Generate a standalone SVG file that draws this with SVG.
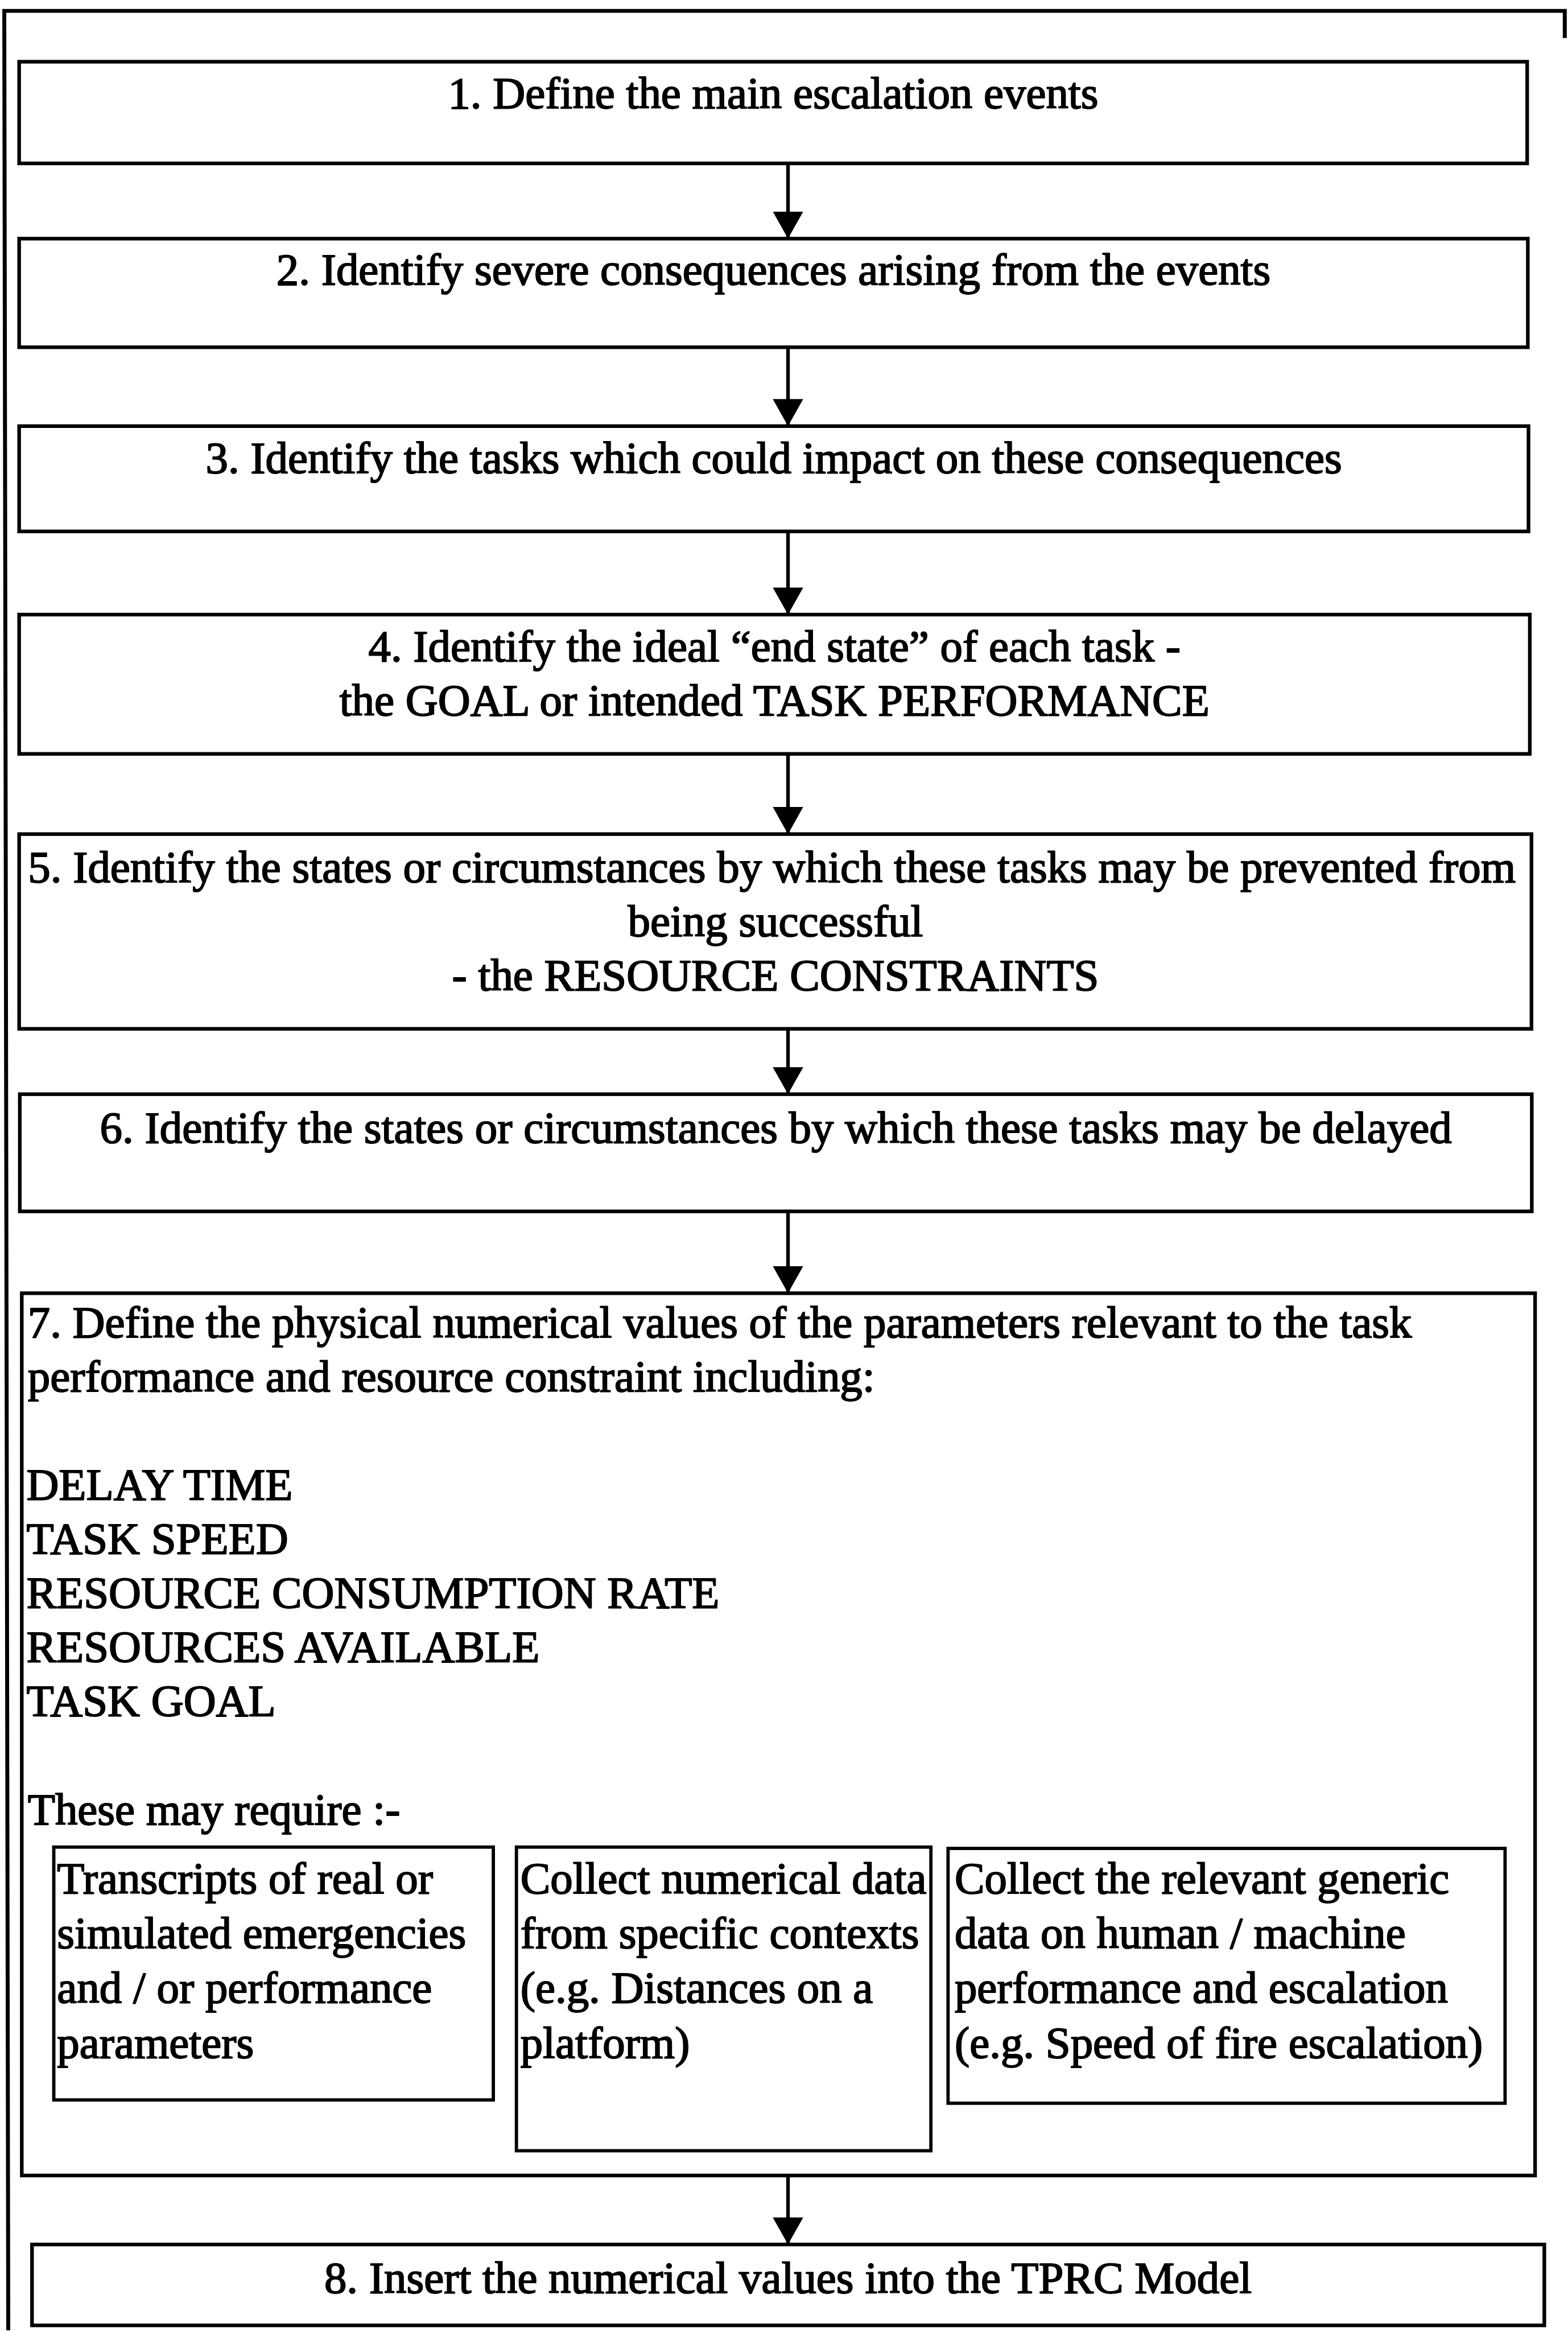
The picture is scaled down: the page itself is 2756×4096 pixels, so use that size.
<svg xmlns="http://www.w3.org/2000/svg" width="2756" height="4096" viewBox="0 0 2756 4096">
  <style>
    .frame{fill:none;stroke:#000;stroke-width:12}
    .box{fill:#fff;stroke:#000;stroke-width:11}
    .sub{fill:#fff;stroke:#000;stroke-width:10}
    .link{fill:none;stroke:#000;stroke-width:11}
    .t{font-family:"Liberation Serif","Times New Roman",serif;font-size:136px;fill:#000;stroke:#000;stroke-width:3.5;stroke-linejoin:round}
    .c{text-anchor:middle}
  </style>
  <defs>
    <marker id="head" markerUnits="userSpaceOnUse" viewBox="0 0 82 92" refX="82" refY="46" markerWidth="82" markerHeight="92" orient="auto">
      <path d="M0,0 L82,46 L0,92 Z" fill="#000"/>
    </marker>
  </defs>
  <rect width="2756" height="4096" fill="#fff"/>
  <!-- drawn in source units, scaled down to the page -->
  <g transform="scale(0.58)">
    <!-- surrounding frame (runs off the bottom and right of the page) -->
    <path class="frame" d="M25,7060 L13,33 H4742 V115"/>

    <g id="connectors">
      <line class="link" x1="2388" y1="495" x2="2388" y2="723" marker-end="url(#head)"/>
      <line class="link" x1="2388" y1="1052" x2="2388" y2="1291" marker-end="url(#head)"/>
      <line class="link" x1="2388" y1="1610" x2="2388" y2="1862" marker-end="url(#head)"/>
      <line class="link" x1="2388" y1="2284" x2="2388" y2="2527" marker-end="url(#head)"/>
      <line class="link" x1="2388" y1="3117" x2="2388" y2="3315" marker-end="url(#head)"/>
      <line class="link" x1="2388" y1="3670" x2="2388" y2="3918" marker-end="url(#head)"/>
      <line class="link" x1="2388" y1="6591" x2="2388" y2="6800" marker-end="url(#head)"/>
    </g>

    <g id="step1">
      <rect class="box" x="58" y="187" width="4570" height="308"/>
      <text class="t c" x="2343" y="328">1. Define the main escalation events</text>
    </g>

    <g id="step2">
      <rect class="box" x="58" y="723" width="4572" height="329"/>
      <text class="t c" x="2344" y="862">2. Identify severe consequences arising from the events</text>
    </g>

    <g id="step3">
      <rect class="box" x="58" y="1291" width="4574" height="319"/>
      <text class="t c" x="2345" y="1432">3. Identify the tasks which could impact on these consequences</text>
    </g>

    <g id="step4">
      <rect class="box" x="58" y="1862" width="4578" height="422"/>
      <text class="t c" x="2347" y="2003">4. Identify the ideal “end state” of each task -</text>
      <text class="t c" x="2347" y="2168">the GOAL or intended TASK PERFORMANCE</text>
    </g>

    <g id="step5">
      <rect class="box" x="58" y="2527" width="4583" height="590"/>
      <text class="t" x="85" y="2672">5. Identify the states or circumstances by which these tasks may be prevented from</text>
      <text class="t c" x="2350" y="2836">being successful</text>
      <text class="t c" x="2350" y="3000">- the RESOURCE CONSTRAINTS</text>
    </g>

    <g id="step6">
      <rect class="box" x="60" y="3315" width="4582" height="355"/>
      <text class="t c" x="2351" y="3462">6. Identify the states or circumstances by which these tasks may be delayed</text>
    </g>

    <g id="step7">
      <rect class="box" x="66" y="3918" width="4586" height="2673"/>
      <text class="t" x="84" y="4052">7. Define the physical numerical values of the parameters relevant to the task</text>
      <text class="t" x="84" y="4215">performance and resource constraint including:</text>
      <text class="t" x="80" y="4543">DELAY TIME</text>
      <text class="t" x="80" y="4707">TASK SPEED</text>
      <text class="t" x="80" y="4871">RESOURCE CONSUMPTION RATE</text>
      <text class="t" x="80" y="5035">RESOURCES AVAILABLE</text>
      <text class="t" x="80" y="5199">TASK GOAL</text>
      <text class="t" x="84" y="5527">These may require :-</text>

      <g id="step7-transcripts">
        <rect class="sub" x="163" y="5596" width="1332" height="766"/>
        <text class="t" x="173" y="5737">Transcripts of real or</text>
        <text class="t" x="173" y="5902">simulated emergencies</text>
        <text class="t" x="173" y="6068">and / or performance</text>
        <text class="t" x="173" y="6234">parameters</text>
      </g>

      <g id="step7-specific">
        <rect class="sub" x="1565" y="5596" width="1256" height="920"/>
        <text class="t" x="1577" y="5737">Collect numerical data</text>
        <text class="t" x="1577" y="5902">from specific contexts</text>
        <text class="t" x="1577" y="6068">(e.g. Distances on a</text>
        <text class="t" x="1577" y="6234">platform)</text>
      </g>

      <g id="step7-generic">
        <rect class="sub" x="2873" y="5600" width="1688" height="772"/>
        <text class="t" x="2893" y="5737">Collect the relevant generic</text>
        <text class="t" x="2893" y="5902">data on human / machine</text>
        <text class="t" x="2893" y="6068">performance and escalation</text>
        <text class="t" x="2893" y="6234">(e.g. Speed of fire escalation)</text>
      </g>
    </g>

    <g id="step8">
      <rect class="box" x="97" y="6800" width="4583" height="245"/>
      <text class="t c" x="2388" y="6946">8. Insert the numerical values into the TPRC Model</text>
    </g>
  </g>
</svg>
